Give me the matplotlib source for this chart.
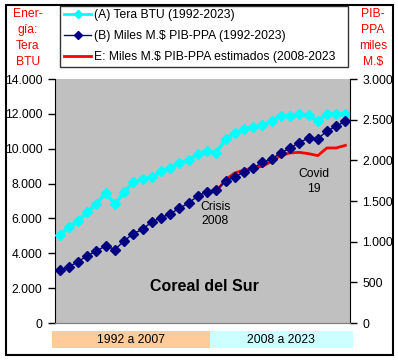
import matplotlib.pyplot as plt
import numpy as np
from matplotlib.patches import Rectangle
from matplotlib.ticker import FuncFormatter, MultipleLocator

plt.rcParams['font.family'] = ['Liberation Sans', 'DejaVu Sans']

# datos
years = list(range(1992, 2024))
tera_btu = [5050, 5500, 5860, 6350, 6850, 7440, 6830, 7510, 8090, 8260,
            8350, 8710, 8900, 9190, 9340, 9700, 9860, 9780, 10530, 10900,
            11110, 11250, 11340, 11590, 11900, 11900, 12010, 11910, 11590, 12010,
            11970, 12010]
pib_ppa = [650, 690, 755, 825, 887, 948, 903, 1010, 1100, 1150,
           1245, 1292, 1345, 1410, 1476, 1562, 1615, 1636, 1742, 1800,
           1853, 1902, 1976, 2017, 2091, 2152, 2217, 2275, 2267, 2357,
           2422, 2479]
years_est = list(range(2008, 2024))
pib_est = [1615, 1615, 1763, 1845, 1880, 1906, 1926, 1988, 2061, 2091,
           2098, 2082, 2058, 2152, 2152, 2184]

W, H = 398, 360
fig = plt.figure(figsize=(W / 100, H / 100), dpi=100)

def fx(px):
    return px / W

def fy(py):
    return 1 - py / H

ax = fig.add_axes([fx(55), fy(323), fx(350) - fx(55), fy(79) - fy(323)])
ax.set_facecolor('#C0C0C0')
ax2 = ax.twinx()

x = np.arange(len(years))
x_est = np.array([years.index(y) for y in years_est])

ax.plot(x, tera_btu, color='#00FFFF', lw=2.5, marker='D', ms=5, zorder=3)
ax2.plot(x_est, pib_est, color='#FF0000', lw=2, zorder=2)
ax2.plot(x, pib_ppa, color='#000080', lw=1, marker='D', ms=5, zorder=3)

ax.set_xlim(-0.5, len(years) - 0.5)
ax.set_ylim(0, 14000)
ax2.set_ylim(0, 3000)
ax.set_xticks([])
ax.yaxis.set_major_locator(MultipleLocator(2000))
ax2.yaxis.set_major_locator(MultipleLocator(500))

fmt = FuncFormatter(lambda v, p: f'{int(v):,}'.replace(',', '.'))
ax.yaxis.set_major_formatter(fmt)
ax2.yaxis.set_major_formatter(fmt)

for a in (ax, ax2):
    a.tick_params(axis='y', direction='out', length=5, width=1, labelsize=8.7, pad=4)
    a.spines['top'].set_visible(False)
    a.spines['bottom'].set_color('#808080')
ax2.spines['left'].set_visible(False)
ax.spines['right'].set_visible(False)

# textos dentro del grafico
ax.text(16.9, 6250, 'Crisis\n2008', ha='center', va='center', fontsize=8.7, linespacing=1.3)
ax.text(27.6, 8100, 'Covid\n19', ha='center', va='center', fontsize=8.7, linespacing=1.3)
ax.text(9.8, 2100, 'Coreal del Sur', ha='left', va='center', fontsize=11.5, fontweight='bold')

# etiquetas de ejes
fig.text(fx(28), fy(38), 'Ener-\ngía:\nTera\nBTU', color='#FF0000', ha='center', va='center',
         fontsize=8.7, linespacing=1.45)
fig.text(fx(373), fy(38), 'PIB-\nPPA\nmiles\nM.$', color='#FF0000', ha='center', va='center',
         fontsize=8.7, linespacing=1.45)

# leyenda
handles = [
    plt.Line2D([], [], color='#00FFFF', lw=2, marker='D', ms=4),
    plt.Line2D([], [], color='#000080', lw=1, marker='D', ms=4),
    plt.Line2D([], [], color='#FF0000', lw=2),
]
labels = ['(A) Tera BTU (1992-2023)',
          '(B) Miles M.$ PIB-PPA (1992-2023)',
          'E: Miles M.$ PIB-PPA estimados (2008-2023']
leg = fig.legend(handles, labels, loc='upper left', mode='expand',
                 bbox_to_anchor=(fx(60), fy(70), fx(348) - fx(60), fy(5.7) - fy(70)),
                 bbox_transform=fig.transFigure, fontsize=8.7, frameon=True,
                 fancybox=False, borderaxespad=0, borderpad=0.3, labelspacing=0.75,
                 handlelength=2.3, handletextpad=0.25)
leg.get_frame().set_edgecolor('black')
leg.get_frame().set_linewidth(1)

# cajas inferiores
fig.patches.append(Rectangle((fx(52), fy(348)), fx(210) - fx(52), fy(331) - fy(348),
                             transform=fig.transFigure, facecolor='#FFCC99', edgecolor='none'))
fig.patches.append(Rectangle((fx(210), fy(348)), fx(353) - fx(210), fy(331) - fy(348),
                             transform=fig.transFigure, facecolor='#CCFFFF', edgecolor='none'))
fig.text(fx(131), fy(340), '1992 a 2007', ha='center', va='center', fontsize=8.7)
fig.text(fx(281), fy(340), '2008 a 2023', ha='center', va='center', fontsize=8.7)

# borde exterior
fig.patches.append(Rectangle((fx(5.5), fy(355)), fx(392.5) - fx(5.5), fy(5.5) - fy(355),
                             transform=fig.transFigure, facecolor='none', edgecolor='black', lw=1.5))

fig.savefig('out.png', dpi=100)
